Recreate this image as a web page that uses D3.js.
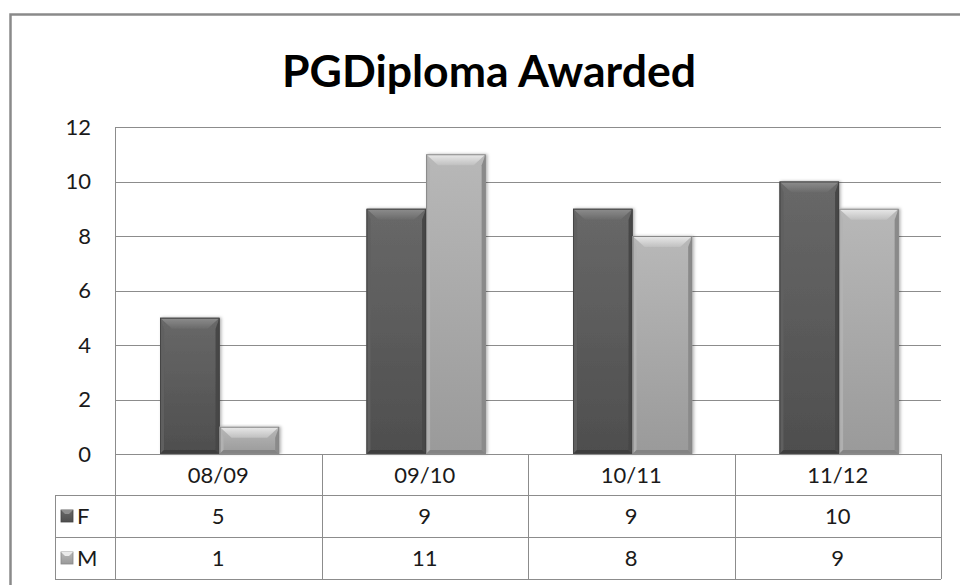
<!DOCTYPE html>
<html>
<head>
<meta charset="utf-8">
<script src="https://cdn.jsdelivr.net/npm/d3@7"></script>
<style>
  html, body { margin: 0; padding: 0; background: #fff; }
  svg { display: block; font-family: Lato, "Open Sans", sans-serif; }
</style>
</head>
<body>
<svg id="chart" width="960" height="585"></svg>
<script>
// Awards per academic year, by gender
const categories = ["08/09", "09/10", "10/11", "11/12"];
const seriesNames = ["F", "M"];
const valuesF = [5, 9, 9, 10];
const valuesM = [1, 11, 8, 9];
const yTicks = [0, 2, 4, 6, 8, 10, 12];
const title = "PGDiploma Awarded";

const seriesValues = { F: valuesF, M: valuesM };

// Gray bevel palette per series
const palette = {
  F: { top: "#686868", bottom: "#4e4e4e", bevelTop: "#8e8e8e", bevelIn: "#6a6a6a", side: "#606060", sideDark: "#464646", base: "#3e3e3e", edge: "#444" },
  M: { top: "#b8b8b8", bottom: "#9a9a9a", bevelTop: "#eaeaea", bevelIn: "#c0c0c0", side: "#b2b2b2", sideDark: "#8a8a8a", base: "#838383", edge: "#888" }
};

const svg = d3.select("#chart");
const plot = { left: 115, right: 941, top: 127, bottom: 454 };

const defs = svg.append("defs");
seriesNames.forEach(s => {
  const g = defs.append("linearGradient").attr("id", "body-" + s)
    .attr("x1", 0).attr("y1", 0).attr("x2", 0).attr("y2", 1);
  g.append("stop").attr("offset", "0%").attr("stop-color", palette[s].top);
  g.append("stop").attr("offset", "100%").attr("stop-color", palette[s].bottom);
  const t = defs.append("linearGradient").attr("id", "bevel-" + s)
    .attr("x1", 0).attr("y1", 0).attr("x2", 0).attr("y2", 1);
  t.append("stop").attr("offset", "0%").attr("stop-color", palette[s].bevelTop);
  t.append("stop").attr("offset", "100%").attr("stop-color", palette[s].bevelIn);
});
const shadow = defs.append("filter").attr("id", "shadow")
  .attr("x", "-20%").attr("y", "-10%").attr("width", "140%").attr("height", "120%");
shadow.append("feDropShadow").attr("dx", 1.5).attr("dy", 0).attr("stdDeviation", 1.5)
  .attr("flood-color", "#000").attr("flood-opacity", 0.3);

// Chart frame
svg.append("path")
  .attr("d", "M10.5,585 L10.5,14.5 L960,14.5")
  .attr("fill", "none").attr("stroke", "#8a8a8a").attr("stroke-width", 2.5);

// Title
svg.append("text")
  .attr("x", 489).attr("y", 87)
  .attr("text-anchor", "middle")
  .attr("font-size", 44).attr("font-weight", 700).attr("fill", "#000")
  .attr("textLength", 414).attr("lengthAdjust", "spacingAndGlyphs")
  .text(title);

// Scales
const x0 = d3.scaleBand().domain(categories).range([plot.left, plot.right]);
const bw = x0.bandwidth();
const x1 = d3.scaleBand().domain(seriesNames).range([bw * 0.218, bw * 0.795]);
const y = d3.scaleLinear().domain([0, 12]).range([plot.bottom, plot.top]);

// Gridlines
svg.append("g").selectAll("line").data(yTicks).join("line")
  .attr("x1", plot.left).attr("x2", plot.right)
  .attr("y1", d => Math.round(y(d)) + 0.5).attr("y2", d => Math.round(y(d)) + 0.5)
  .attr("stroke", "#8c8c8c").attr("stroke-width", 1);

// Value axis
const yAxis = d3.axisLeft(y).tickValues(yTicks).tickSize(0).tickPadding(0);
const ya = svg.append("g").attr("transform", `translate(${plot.left - 24},0)`).call(yAxis);
ya.select(".domain").remove();
ya.selectAll("text").attr("font-size", 22).attr("fill", "#1a1a1a")
  .attr("font-family", "Lato, sans-serif");
svg.append("line")
  .attr("x1", plot.left + 0.5).attr("x2", plot.left + 0.5)
  .attr("y1", plot.top).attr("y2", plot.bottom)
  .attr("stroke", "#8c8c8c");

// Bevelled bar
function drawBar(g, s, x, yTop, w, yBase) {
  const p = palette[s];
  const h = yBase - yTop;
  const bt = Math.min(11, h / 2), bs = 4, bb = Math.min(4, h / 4);
  const bar = g.append("g").attr("filter", "url(#shadow)");
  bar.append("rect").attr("x", x).attr("y", yTop).attr("width", w).attr("height", h)
    .attr("fill", `url(#body-${s})`);
  // left side
  bar.append("path").attr("d", `M${x},${yTop} L${x + bs},${yTop + bt} L${x + bs},${yBase - bb} L${x},${yBase} Z`)
    .attr("fill", p.side).attr("opacity", 0.9);
  // right side
  bar.append("path").attr("d", `M${x + w},${yTop} L${x + w - bs},${yTop + bt} L${x + w - bs},${yBase - bb} L${x + w},${yBase} Z`)
    .attr("fill", p.sideDark);
  // bottom
  bar.append("path").attr("d", `M${x},${yBase} L${x + bs},${yBase - bb} L${x + w - bs},${yBase - bb} L${x + w},${yBase} Z`)
    .attr("fill", p.base);
  // top bevel
  bar.append("path").attr("d", `M${x},${yTop} L${x + w},${yTop} L${x + w - bs * 3},${yTop + bt} L${x + bs * 3},${yTop + bt} Z`)
    .attr("fill", `url(#bevel-${s})`);
  bar.append("rect").attr("x", x + 0.5).attr("y", yTop + 0.5).attr("width", w - 1).attr("height", h - 1)
    .attr("fill", "none").attr("stroke", p.edge).attr("stroke-width", 1);
}

const groups = svg.append("g").selectAll("g").data(categories).join("g")
  .attr("transform", d => `translate(${x0(d)},0)`);
groups.each(function(cat, i) {
  const g = d3.select(this);
  seriesNames.forEach(s => {
    const v = seriesValues[s][i];
    drawBar(g, s, x1(s), y(v), x1.bandwidth(), y(0));
  });
});

// Data table below the plot
const rowTop = plot.bottom, headerH = 41, rowH = 42;
const legendLeft = 55;
const tbl = svg.append("g").attr("stroke", "#8c8c8c").attr("stroke-width", 1).attr("fill", "none");
const rowYs = [rowTop, rowTop + headerH, rowTop + headerH + rowH, rowTop + headerH + 2 * rowH];
// horizontal rules
tbl.append("line").attr("x1", plot.left).attr("x2", plot.right).attr("y1", rowYs[0] + 0.5).attr("y2", rowYs[0] + 0.5);
rowYs.slice(1).forEach(ry => {
  tbl.append("line").attr("x1", legendLeft).attr("x2", plot.right).attr("y1", ry + 0.5).attr("y2", ry + 0.5);
});
// vertical rules
const colEdges = categories.map(c => x0(c)).concat([plot.right]);
colEdges.forEach(cx => {
  tbl.append("line").attr("x1", Math.round(cx) + 0.5).attr("x2", Math.round(cx) + 0.5)
    .attr("y1", rowYs[0]).attr("y2", rowYs[3]);
});
tbl.append("line").attr("x1", legendLeft + 0.5).attr("x2", legendLeft + 0.5).attr("y1", rowYs[1]).attr("y2", rowYs[3]);

const txt = svg.append("g").attr("font-size", 22).attr("fill", "#1a1a1a").attr("text-anchor", "middle");
categories.forEach(c => {
  txt.append("text").attr("x", x0(c) + bw / 2).attr("y", rowYs[0] + headerH / 2 + 8).text(c);
});
seriesNames.forEach((s, r) => {
  const cy = rowYs[1 + r] + rowH / 2;
  seriesValues[s].forEach((v, i) => {
    txt.append("text").attr("x", x0(categories[i]) + bw / 2).attr("y", cy + 8).text(v);
  });
  // legend key
  const p = palette[s];
  const kx = 61, ky = cy - 6, ks = 12;
  svg.append("rect").attr("x", kx).attr("y", ky).attr("width", ks).attr("height", ks)
    .attr("fill", `url(#body-${s})`).attr("stroke", p.edge).attr("stroke-width", 0.8);
  svg.append("path").attr("d", `M${kx},${ky} L${kx + ks},${ky} L${kx + ks - 4},${ky + 4} L${kx + 4},${ky + 4} Z`)
    .attr("fill", p.bevelTop);
  svg.append("text").attr("x", 77).attr("y", cy + 8).attr("font-size", 22).attr("fill", "#1a1a1a")
    .text(s);
});
</script>
</body>
</html>
